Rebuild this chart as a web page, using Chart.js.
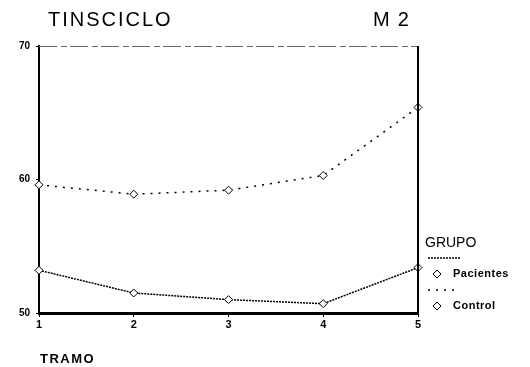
<!DOCTYPE html>
<html>
<head>
<meta charset="utf-8">
<script src="https://cdn.jsdelivr.net/npm/chart.js@4"></script>
<style>
  body { margin: 0; background: #fff; }
  #wrap { position: relative; width: 530px; height: 367px; font-family: "Liberation Sans", Arial, sans-serif; color: #000; }
  canvas { position: absolute; left: 0; top: 0; }
  .lbl { position: absolute; white-space: nowrap; line-height: 1; }
</style>
</head>
<body>
<div id="wrap">
  <canvas id="chart" width="530" height="367"></canvas>
  <div class="lbl" style="left:48px;top:9px;font-size:20px;letter-spacing:2px;">TINSCICLO</div>
  <div class="lbl" style="left:373px;top:9px;font-size:20px;letter-spacing:8px;">M2</div>
  <div class="lbl" style="left:40px;top:352px;font-size:13px;font-weight:bold;letter-spacing:1.5px;">TRAMO</div>
</div>
<script>
const tramos = ["1", "2", "3", "4", "5"];
const pacientes = [53.2, 51.5, 51.0, 50.7, 53.4];
const control = [59.6, 58.9, 59.2, 60.3, 65.4];
const yTicks = [50, 60, 70];
const grupos = ["Pacientes", "Control"];

// right and top frame + custom legend
const framePlugin = {
  id: "frame",
  afterDraw(chart) {
    const { ctx, chartArea } = chart;
    ctx.save();
    ctx.strokeStyle = "#666";
    ctx.lineWidth = 1;
    ctx.setLineDash([18, 4, 6, 3]);
    ctx.beginPath();
    ctx.moveTo(chartArea.left, chartArea.top + 0.5);
    ctx.lineTo(chartArea.right, chartArea.top + 0.5);
    ctx.stroke();
    ctx.setLineDash([]);
    ctx.strokeStyle = "#000";
    ctx.lineWidth = 2;
    ctx.beginPath();
    ctx.moveTo(chartArea.right, chartArea.top);
    ctx.lineTo(chartArea.right, chartArea.bottom);
    ctx.stroke();

    // legend
    ctx.fillStyle = "#000";
    ctx.textBaseline = "middle";
    ctx.font = "14px 'Liberation Sans', Arial, sans-serif";
    ctx.fillText("GRUPO", 425, 243);
    const rows = [
      { y: 258, dash: [2, 1], name: grupos[0], ty: 274 },
      { y: 290, dash: [2, 6], name: grupos[1], ty: 306 },
    ];
    rows.forEach((r) => {
      ctx.lineWidth = 1.5;
      ctx.setLineDash(r.dash);
      ctx.beginPath();
      ctx.moveTo(428, r.y);
      ctx.lineTo(460, r.y);
      ctx.stroke();
      ctx.setLineDash([]);
      ctx.lineWidth = 1;
      ctx.beginPath();
      ctx.moveTo(437, r.ty - 4);
      ctx.lineTo(441, r.ty);
      ctx.lineTo(437, r.ty + 4);
      ctx.lineTo(433, r.ty);
      ctx.closePath();
      ctx.stroke();
      ctx.font = "bold 11px 'Liberation Sans', Arial, sans-serif";
      ctx.letterSpacing = "0.5px";
      ctx.fillText(r.name, 453, r.ty);
    });
    ctx.restore();
  },
};

new Chart(document.getElementById("chart"), {
  type: "line",
  data: {
    labels: tramos,
    datasets: [
      {
        label: grupos[0],
        data: pacientes,
        borderColor: "#000",
        borderWidth: 1.5,
        borderDash: [2, 1],
        pointStyle: "rectRot",
        pointRadius: 4,
        pointBackgroundColor: "#fff",
        pointBorderColor: "#000",
        pointBorderWidth: 1,
        tension: 0,
      },
      {
        label: grupos[1],
        data: control,
        borderColor: "#000",
        borderWidth: 1.5,
        borderDash: [2, 6],
        pointStyle: "rectRot",
        pointRadius: 4,
        pointBackgroundColor: "#fff",
        pointBorderColor: "#000",
        pointBorderWidth: 1,
        tension: 0,
      },
    ],
  },
  options: {
    responsive: false,
    animation: false,
    layout: { padding: { left: 0, top: 46, right: 112, bottom: 0 } },
    plugins: { legend: { display: false }, tooltip: { enabled: false } },
    scales: {
      x: {
        offset: false,
        afterFit(s) { s.height = 54; },
        grid: { display: true, drawOnChartArea: false, tickLength: 4, color: "#000" },
        border: { display: true, color: "#000", width: 3 },
        ticks: {
          color: "#000",
          padding: 1,
          maxRotation: 0,
          font: { family: "'Liberation Sans', Arial, sans-serif", size: 11, weight: "bold" },
        },
      },
      y: {
        min: 50,
        max: 70,
        afterFit(s) { s.width = 39; },
        afterBuildTicks(s) { s.ticks = yTicks.map((v) => ({ value: v })); },
        grid: { display: true, drawOnChartArea: false, tickLength: 3, color: "#000" },
        border: { display: true, color: "#000", width: 2 },
        ticks: {
          color: "#000",
          padding: 6,
          font: { family: "'Liberation Sans', Arial, sans-serif", size: 10, weight: "bold" },
        },
      },
    },
  },
  plugins: [framePlugin],
});
</script>
</body>
</html>
